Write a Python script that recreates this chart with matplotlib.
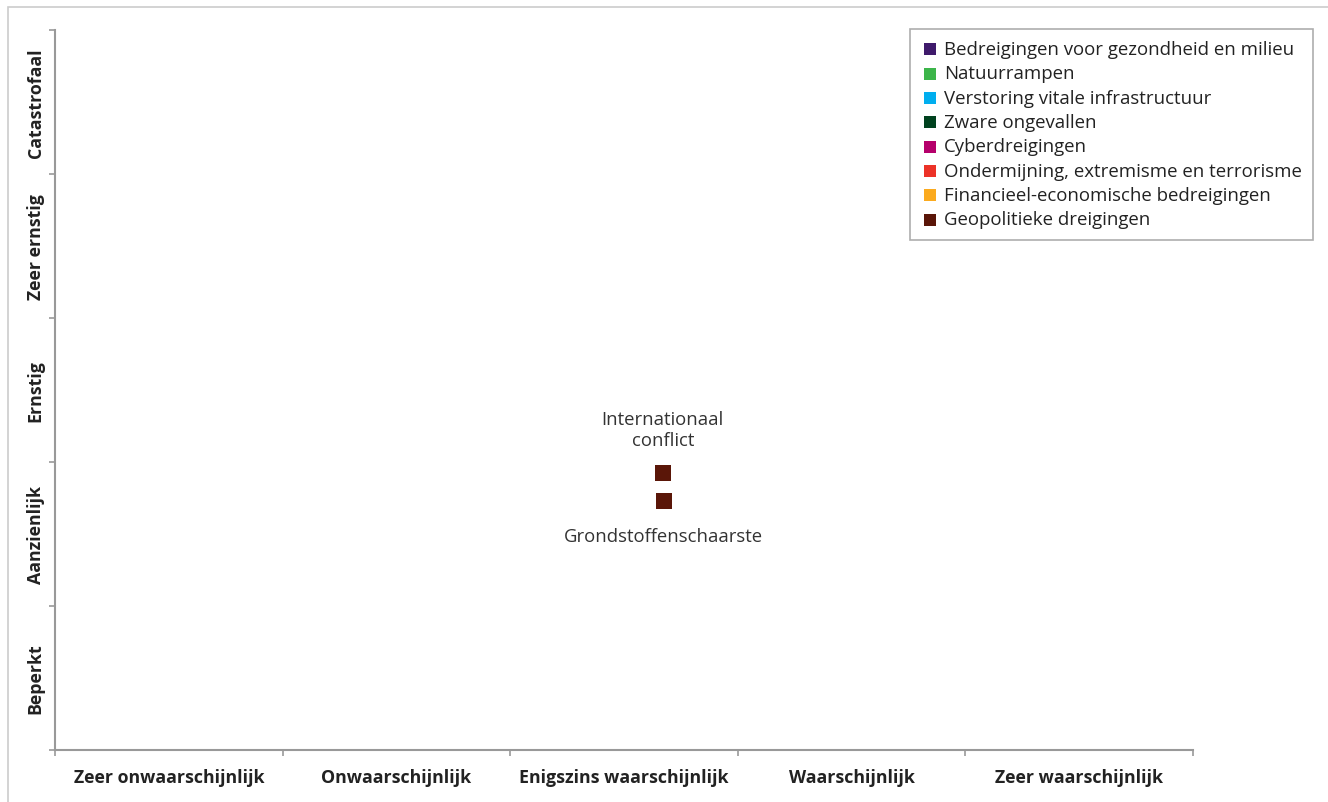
import matplotlib.pyplot as plt
from matplotlib.patches import Rectangle

# Categories of the axes
likelihood = ['Zeer onwaarschijnlijk', 'Onwaarschijnlijk', 'Enigszins waarschijnlijk',
              'Waarschijnlijk', 'Zeer waarschijnlijk']
impact = ['Beperkt', 'Aanzienlijk', 'Ernstig', 'Zeer ernstig', 'Catastrofaal']

# Threat themes (legend) and their colours
themes = ['Bedreigingen voor gezondheid en milieu', 'Natuurrampen',
          'Verstoring vitale infrastructuur', 'Zware ongevallen', 'Cyberdreigingen',
          'Ondermijning, extremisme en terrorisme',
          'Financieel-economische bedreigingen', 'Geopolitieke dreigingen']
theme_colors = ['#3f1a6b', '#3cb54a', '#00aeef', '#00421f', '#b5006b',
                '#ec3227', '#fbaa1e', '#5a1608']

# Scenarios: name, theme, likelihood score, impact score
scenario_names = ['Internationaal\nconflict', 'Grondstoffenschaarste']
scenario_theme = ['Geopolitieke dreigingen', 'Geopolitieke dreigingen']
scenario_x = [2.67, 2.675]
scenario_y = [1.925, 1.73]
label_above = [True, False]

plt.rcParams['font.family'] = ['Open Sans', 'DejaVu Sans']

fig = plt.figure(figsize=(13.28, 8.03), dpi=100)
ax = fig.add_axes([55 / 1328, 1 - 751 / 803, 1138 / 1328, 720 / 803])

# outer frame
fig.patches.append(Rectangle((8 / 1328, -0.1), 1.2, 1 - 8 / 803 + 0.1,
                             transform=fig.transFigure, fill=False,
                             edgecolor='#cccccc', linewidth=1.2))

for theme, color in zip(themes, theme_colors):
    xs = [x for x, t in zip(scenario_x, scenario_theme) if t == theme]
    ys = [y for y, t in zip(scenario_y, scenario_theme) if t == theme]
    ax.scatter(xs, ys, marker='s', s=135, color=color, label=theme, linewidths=0)

for name, x, y, above in zip(scenario_names, scenario_x, scenario_y, label_above):
    offset = 17 if above else -19
    ax.annotate(name, (x, y), xytext=(0, offset), textcoords='offset points',
                ha='center', va='bottom' if above else 'top', fontsize=13.3,
                color='#333333', linespacing=1.25)

ax.set_xlim(0, 5)
ax.set_ylim(0, 5)
ax.set_xticks(range(6))
ax.set_yticks(range(6))
ax.set_xticklabels([])
ax.set_yticklabels([])
for i, lab in enumerate(likelihood):
    ax.text(i + 0.5, -0.19, lab, transform=ax.transData, ha='center', va='center',
            fontsize=12.8, fontweight='bold', color='#222222')
for i, lab in enumerate(impact):
    ax.text(-0.085, i + 0.5, lab, transform=ax.transData, ha='center', va='center',
            rotation=90, fontsize=12.8, fontweight='bold', color='#222222')

for side in ['top', 'right']:
    ax.spines[side].set_visible(False)
for side in ['left', 'bottom']:
    ax.spines[side].set_color('#999999')
    ax.spines[side].set_linewidth(1.5)
ax.tick_params(color='#999999', length=4, width=1.2)

leg = fig.legend(loc='upper right', bbox_to_anchor=(1313 / 1328, 1 - 30 / 803),
                 borderaxespad=0, fontsize=13.4, frameon=True, fancybox=False,
                 handletextpad=0.3, handlelength=0.9, labelspacing=0.34,
                 borderpad=0.6, markerscale=0.7, scatterpoints=1)
leg.get_frame().set_edgecolor('#999999')
leg.get_frame().set_linewidth(1.2)
for t in leg.get_texts():
    t.set_color('#222222')

fig.savefig('out.png', dpi=100)
